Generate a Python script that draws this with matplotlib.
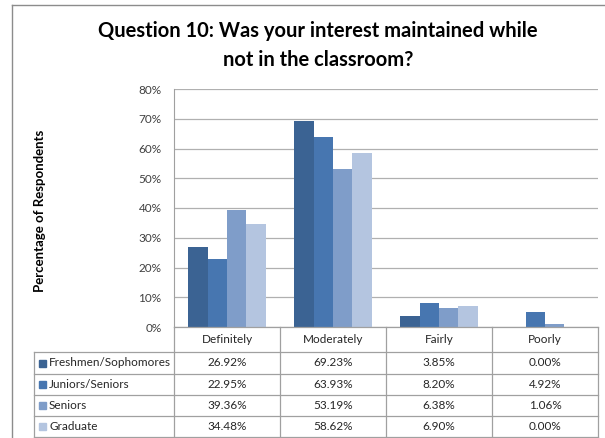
import matplotlib.pyplot as plt
import numpy as np

categories = ["Definitely", "Moderately", "Fairly", "Poorly"]
groups = ["Freshmen/Sophomores", "Juniors/Seniors", "Seniors", "Graduate"]
values = [
    [26.92, 69.23, 3.85, 0.00],
    [22.95, 63.93, 8.20, 4.92],
    [39.36, 53.19, 6.38, 1.06],
    [34.48, 58.62, 6.90, 0.00],
]
colors = ["#3B6393", "#4776B0", "#7F9DC9", "#B4C5E0"]

plt.rcParams['font.family'] = ['Lato', 'DejaVu Sans']

W, H = 605, 438
fig = plt.figure(figsize=(W / 100, H / 100), dpi=100)

def fx(px):
    return px / W

def fy(py):
    return 1 - py / H

# outer chart frame
fig.add_artist(plt.Line2D([fx(12), fx(12)], [fy(5), fy(438)], color="#8c8c8c", lw=1))
fig.add_artist(plt.Line2D([fx(12), fx(605)], [fy(5), fy(5)], color="#8c8c8c", lw=1))

pl, pr, pt, pb = 174, 598, 89, 327
ax = fig.add_axes([fx(pl), fy(pb), fx(pr - pl), fy(pt) - fy(pb)])

x = np.arange(len(categories))
bw = 0.182
for i, g in enumerate(groups):
    ax.bar(x + (i - 1.5) * bw, values[i], bw, color=colors[i], zorder=3)

ax.set_xlim(-0.5, len(categories) - 0.5)
ax.set_ylim(0, 80)
ax.set_yticks(range(0, 81, 10))
ax.set_yticklabels([f"{v}%" for v in range(0, 81, 10)], fontsize=8.5, color="#404040")
ax.set_xticks([])
ax.tick_params(axis='y', length=0, pad=9)
ax.grid(axis='y', color="#b0b0b0", lw=0.9, zorder=0)
for s in ["top", "right", "bottom"]:
    ax.spines[s].set_visible(False)
ax.spines["left"].set_color("#a0a0a0")

ax.set_ylabel("Percentage of Respondents", fontsize=9.5, fontweight="bold", labelpad=0)
ax.yaxis.set_label_coords((46 - pl) / (pr - pl), 0.49)

fig.text(fx(318), fy(31), "Question 10: Was your interest maintained while",
         ha="center", va="center", fontsize=14.5, fontweight="bold")
fig.text(fx(318), fy(60), "not in the classroom?",
         ha="center", va="center", fontsize=14.5, fontweight="bold")

# data table below the plot
lc = "#a0a0a0"
colw = (pr - pl) / len(categories)
rows_y = [327, 352, 374, 395, 416, 437]
tl = 34
fig.add_artist(plt.Line2D([fx(pl), fx(pr)], [fy(rows_y[0])] * 2, color=lc, lw=0.9))
for yy in rows_y[1:]:
    fig.add_artist(plt.Line2D([fx(tl), fx(pr)], [fy(yy)] * 2, color=lc, lw=0.9))
for j in range(len(categories) + 1):
    xx = pl + j * colw
    fig.add_artist(plt.Line2D([fx(xx)] * 2, [fy(rows_y[0]), fy(rows_y[-1])], color=lc, lw=0.9))
fig.add_artist(plt.Line2D([fx(tl)] * 2, [fy(rows_y[1]), fy(rows_y[-1])], color=lc, lw=0.9))

for j, c in enumerate(categories):
    fig.text(fx(pl + (j + 0.5) * colw), fy((rows_y[0] + rows_y[1]) / 2), c,
             ha="center", va="center", fontsize=8.5, color="#262626")
for i, g in enumerate(groups):
    yc = fy((rows_y[i + 1] + rows_y[i + 2]) / 2)
    fig.patches.append(plt.Rectangle((fx(39), yc - (fy(0) - fy(3.5))), fx(7), fy(0) - fy(7),
                                     transform=fig.transFigure, color=colors[i], figure=fig))
    fig.text(fx(49), yc, g, ha="left", va="center", fontsize=8.5, color="#262626")
    for j in range(len(categories)):
        fig.text(fx(pl + (j + 0.5) * colw), yc, f"{values[i][j]:.2f}%",
                 ha="center", va="center", fontsize=8.5, color="#262626")

fig.savefig("out.png", dpi=100)
